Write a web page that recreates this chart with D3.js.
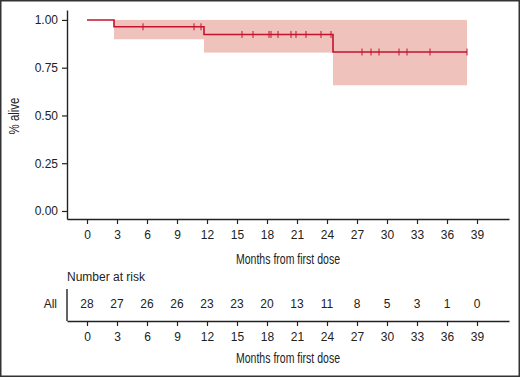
<!DOCTYPE html>
<html>
<head>
<meta charset="utf-8">
<script src="https://cdn.jsdelivr.net/npm/d3@7"></script>
<style>
  body { margin: 0; background: #fff; }
  svg { display: block; }
  .tick text { font-family: "Liberation Sans", Arial, sans-serif; font-size: 12px; fill: #222; }
  .narrow { font-family: "Liberation Sans Narrow", "Liberation Sans", sans-serif; font-size: 14.5px; fill: #222; }
</style>
</head>
<body>
<div id="chart"></div>
<script>
// step times (months) and KM estimates with CI
const stepTimes = [0, 2.7, 11.7, 24.6];
const survival = [1, 0.964, 0.924, 0.832];
const lowerCI = [1, 0.899, 0.829, 0.658];
const upperCI = [1, 1, 1, 1];
const endTime = 38;

// censored observations (months)
const censorTimes = [5.6, 10.7, 11.4, 15.5, 16.6, 18.2, 18.4, 19.1, 20.4, 20.9, 21.9, 23.4, 24.4,
  27.5, 28.4, 29.2, 31.2, 32.0, 34.3, 38.0];

const tickMonths = [0, 3, 6, 9, 12, 15, 18, 21, 24, 27, 30, 33, 36, 39];
const atRisk = [28, 27, 26, 26, 23, 23, 20, 13, 11, 8, 5, 3, 1, 0];
const yTicks = [0, 0.25, 0.5, 0.75, 1];

let width = 520, height = 377;

const svg = d3.select("#chart").append("svg")
  .attr("width", width).attr("height", height);

// frame
svg.append("rect")
  .attr("x", 0.75).attr("y", 0.75)
  .attr("width", width - 1.5).attr("height", height - 1.5)
  .attr("fill", "#fff").attr("stroke", "#333").attr("stroke-width", 1.5);

const x = d3.scaleLinear().domain([-2, 42.2]).range([67, 509]);
const y = d3.scaleLinear().domain([-0.042, 1.052]).range([219, 10]);

// build step data
const stepData = stepTimes.map((t, i) => ({
  t: t, s: survival[i], lo: lowerCI[i], hi: upperCI[i],
  t1: i < stepTimes.length - 1 ? stepTimes[i + 1] : endTime
}));

// CI band
svg.append("g").selectAll("rect")
  .data(stepData.filter(d => d.lo < d.hi))
  .enter().append("rect")
    .attr("x", d => x(d.t))
    .attr("width", d => x(d.t1) - x(d.t))
    .attr("y", d => y(d.hi))
    .attr("height", d => y(d.lo) - y(d.hi))
    .attr("fill", "#efc3bb");

// survival step line
const pts = [];
stepData.forEach(d => { pts.push([d.t, d.s]); pts.push([d.t1, d.s]); });
svg.append("path")
  .datum(pts)
  .attr("fill", "none")
  .attr("stroke", "#c4122f")
  .attr("stroke-width", 1.6)
  .attr("d", d3.line().x(d => x(d[0])).y(d => y(d[1])));

function survAt(t) {
  let s = 1;
  stepTimes.forEach((st, i) => { if (st <= t) s = survival[i]; });
  return s;
}

// censor marks
svg.append("g").selectAll("line")
  .data(censorTimes)
  .enter().append("line")
    .attr("x1", d => x(d)).attr("x2", d => x(d))
    .attr("y1", d => y(survAt(d)) - 3.5)
    .attr("y2", d => y(survAt(d)) + 3.5)
    .attr("stroke", "#c4122f")
    .attr("stroke-width", 1);

// axes
const xAxis = svg.append("g")
  .attr("transform", "translate(0,219)")
  .call(d3.axisBottom(x).tickValues(tickMonths).tickSize(5).tickSizeOuter(0).tickPadding(6));

const yAxis = svg.append("g")
  .attr("transform", "translate(67,0)")
  .call(d3.axisLeft(y).tickValues(yTicks).tickFormat(d3.format(".2f")).tickSize(5).tickSizeOuter(0).tickPadding(4));

[xAxis, yAxis].forEach(g => {
  g.select(".domain").attr("stroke", "#222").attr("stroke-width", 1.4);
  g.selectAll(".tick line").attr("stroke", "#222").attr("stroke-width", 1.2);
});

// condensed titles (squeezed to the width seen in the original)
svg.append("text")
  .attr("class", "narrow")
  .attr("text-anchor", "middle")
  .attr("transform", "translate(19,116) rotate(-90)")
  .attr("textLength", 37).attr("lengthAdjust", "spacingAndGlyphs")
  .text("% alive");

svg.append("text")
  .attr("class", "narrow")
  .attr("x", 288).attr("y", 264)
  .attr("text-anchor", "middle")
  .attr("textLength", 104).attr("lengthAdjust", "spacingAndGlyphs")
  .text("Months from first dose");

// risk table
svg.append("text")
  .attr("x", 67).attr("y", 281)
  .style("font-family", "Liberation Sans, Arial, sans-serif")
  .style("font-size", "12px").style("fill", "#222")
  .text("Number at risk");

svg.append("text")
  .attr("x", 57).attr("y", 308)
  .attr("text-anchor", "end")
  .style("font-family", "Liberation Sans, Arial, sans-serif")
  .style("font-size", "12px").style("fill", "#222")
  .text("All");

svg.append("g").selectAll("text")
  .data(tickMonths)
  .enter().append("text")
    .attr("x", d => x(d))
    .attr("y", 308)
    .attr("text-anchor", "middle")
    .style("font-family", "Liberation Sans, Arial, sans-serif")
    .style("font-size", "12px").style("fill", "#222")
    .text((d, i) => atRisk[i]);

const riskAxis = svg.append("g")
  .attr("transform", "translate(0,321)")
  .call(d3.axisBottom(x).tickValues(tickMonths).tickSize(5).tickSizeOuter(0).tickPadding(6));
riskAxis.select(".domain").attr("stroke", "#222").attr("stroke-width", 1.4);
riskAxis.selectAll(".tick line").attr("stroke", "#222").attr("stroke-width", 1.2);

svg.append("line")
  .attr("x1", 67).attr("x2", 67)
  .attr("y1", 289).attr("y2", 321)
  .attr("stroke", "#222").attr("stroke-width", 1.4);

svg.append("text")
  .attr("class", "narrow")
  .attr("x", 288).attr("y", 363)
  .attr("text-anchor", "middle")
  .attr("textLength", 104).attr("lengthAdjust", "spacingAndGlyphs")
  .text("Months from first dose");
</script>
</body>
</html>
